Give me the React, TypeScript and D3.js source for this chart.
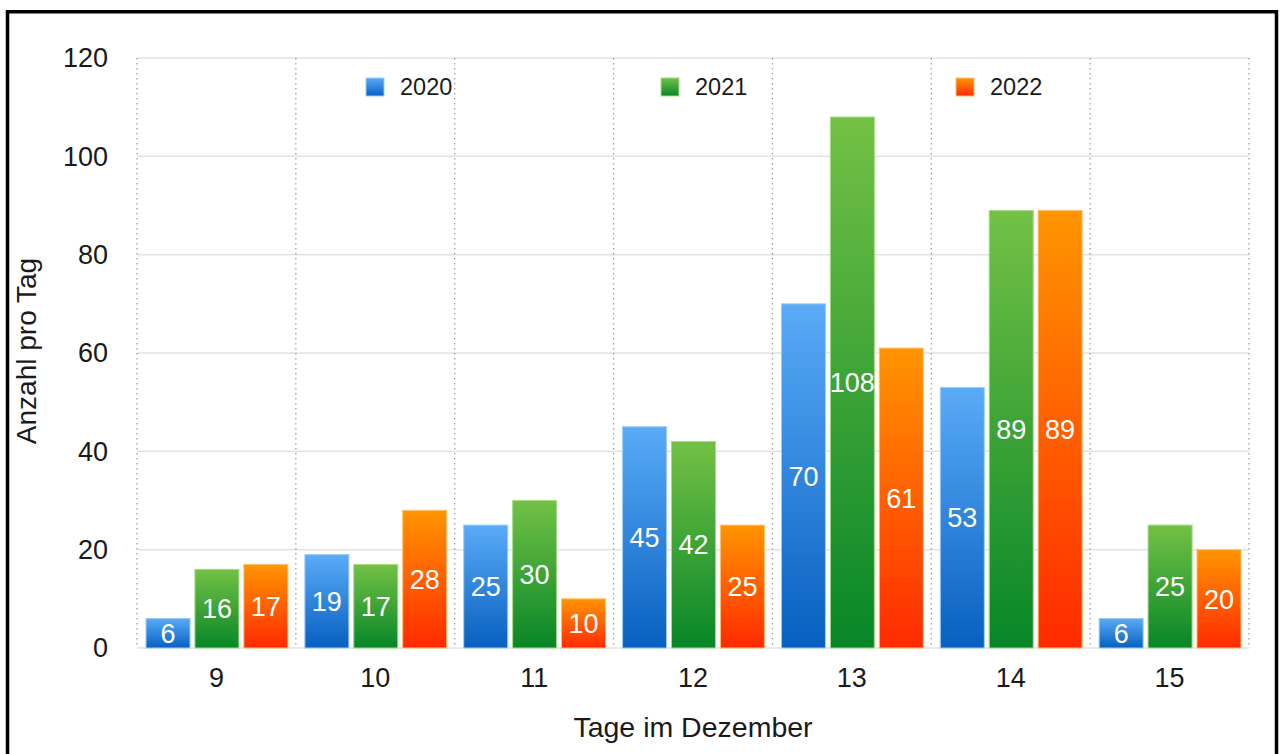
import React from 'react';
import * as d3 from 'd3';

const days = ['9', '10', '11', '12', '13', '14', '15'];
const years = ['2020', '2021', '2022'];
const values2020 = [6, 19, 25, 45, 70, 53, 6];
const values2021 = [16, 17, 30, 42, 108, 89, 25];
const values2022 = [17, 28, 10, 25, 61, 89, 20];
const yTicks = [0, 20, 40, 60, 80, 100, 120];

const seriesValues = [values2020, values2021, values2022];
// gradient stops per series: top -> bottom
const gradients = [
  ['#5aabf7', '#0760c0'],
  ['#73c145', '#078628'],
  ['#ff9500', '#ff2a00'],
];
const strokes = ['#9ccdf8', '#a4dc86', '#ffc070'];

const W = 1280;
const H = 754;
const plot = { left: 137, right: 1249, top: 58, bottom: 648 };
const font = '"Liberation Sans", Arial, Helvetica, sans-serif';

const App = () => {
  const x0 = d3.scaleBand<string>().domain(days).range([plot.left, plot.right]);
  const x1 = d3
    .scaleBand<string>()
    .domain(years)
    .range([9, x0.bandwidth() - 8])
    .paddingInner(0.1);
  const y = d3.scaleLinear().domain([0, 120]).range([plot.bottom, plot.top]);

  const legendX = d3.scaleLinear().domain([0, 1]).range([366, 661]);

  return (
    <svg
      width={W}
      height={H}
      style={{ position: 'absolute', left: 0, top: 0, display: 'block', background: '#fff' }}
      fontFamily={font}
    >
      <defs>
        {gradients.map((g, i) => (
          <linearGradient key={i} id={'grad' + i} x1="0" y1="0" x2="0" y2="1">
            <stop offset="0%" stopColor={g[0]} />
            <stop offset="100%" stopColor={g[1]} />
          </linearGradient>
        ))}
      </defs>

      <rect x={7.5} y={11.75} width={1269} height={780} fill="#fff" stroke="#000" strokeWidth={3.5} />

      {/* horizontal grid */}
      {yTicks.map((t) => (
        <line
          key={'h' + t}
          x1={plot.left}
          x2={plot.right}
          y1={y(t)}
          y2={y(t)}
          stroke="#e2e2e2"
          strokeWidth={1.5}
        />
      ))}

      {/* vertical dotted lines at category edges */}
      {[...days.map((d) => x0(d) as number), plot.right].map((vx, i) => (
        <line
          key={'v' + i}
          x1={vx}
          x2={vx}
          y1={plot.top}
          y2={plot.bottom}
          stroke="#a0a0a0"
          strokeWidth={1.3}
          strokeDasharray="1.5,3.5"
        />
      ))}

      {/* y tick labels */}
      {yTicks.map((t) => (
        <text key={'yt' + t} x={108} y={y(t)} dy="0.35em" textAnchor="end" fontSize={27} fill="#1a1a1a">
          {t}
        </text>
      ))}

      {/* x tick labels */}
      {days.map((d) => (
        <text
          key={'xt' + d}
          x={(x0(d) as number) + x0.bandwidth() / 2}
          y={687}
          textAnchor="middle"
          fontSize={27}
          fill="#1a1a1a"
        >
          {d}
        </text>
      ))}

      {/* bars */}
      {days.map((d, di) => (
        <g key={'g' + d} transform={`translate(${x0(d)},0)`}>
          {years.map((yr, si) => {
            const v = seriesValues[si][di];
            const bx = x1(yr) as number;
            const by = y(v);
            const bh = y(0) - by;
            return (
              <g key={yr}>
                <rect
                  x={bx}
                  y={by}
                  width={x1.bandwidth()}
                  height={bh}
                  fill={`url(#grad${si})`}
                  stroke={strokes[si]}
                  strokeWidth={1}
                />
                <text
                  x={bx + x1.bandwidth() / 2}
                  y={by + bh / 2}
                  dy="0.36em"
                  textAnchor="middle"
                  fontSize={27}
                  fill="#fff"
                >
                  {v}
                </text>
              </g>
            );
          })}
        </g>
      ))}

      {/* legend */}
      {years.map((yr, i) => (
        <g key={'l' + yr} transform={`translate(${legendX(i)},78)`}>
          <rect x={0} y={0} width={18} height={18} fill={`url(#grad${i})`} stroke={strokes[i]} strokeWidth={1} />
          <text x={34} y={17} fontSize={23.5} fill="#1a1a1a">
            {yr}
          </text>
        </g>
      ))}

      {/* axis titles */}
      <text x={693} y={737} textAnchor="middle" fontSize={28.5} fill="#1a1a1a">
        Tage im Dezember
      </text>
      <text
        transform="translate(36,351) rotate(-90)"
        textAnchor="middle"
        fontSize={28}
        fill="#1a1a1a"
      >
        Anzahl pro Tag
      </text>
    </svg>
  );
};

export default App;
